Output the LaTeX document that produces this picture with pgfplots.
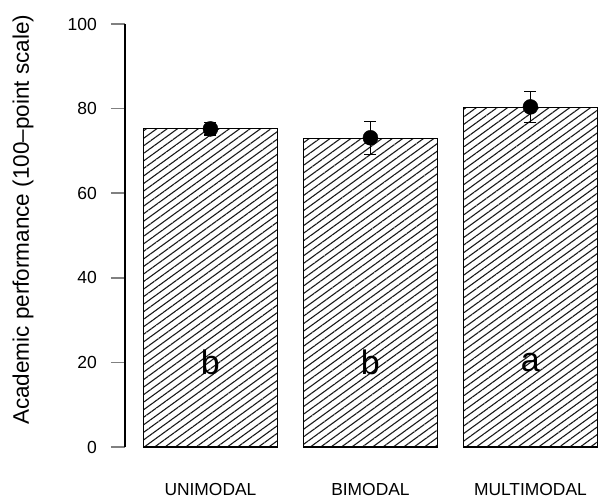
\documentclass[border=0pt]{standalone}
\usepackage{pgfplots}
\pgfplotsset{compat=1.18}
\usetikzlibrary{patterns.meta}
\usepackage{fontspec}
\setmainfont{Liberation Sans}
\begin{document}
\begin{tikzpicture}
\useasboundingbox (0,0) rectangle (598pt,499pt);
\begin{axis}[
  at={(125pt,52pt)}, anchor=south west,
  x=160pt, y=4.23pt,
  xmin=-0.534, xmax=2.422,
  ymin=0, ymax=100,
  clip=false,
  axis lines*=left,
  x axis line style={draw=none},
  y axis line style={line width=1.4pt},
  xtick={0,1,2},
  xticklabels={UNIMODAL,BIMODAL,MULTIMODAL},
  xtick style={draw=none},
  xticklabel style={font=\fontsize{17.4}{20}\selectfont, anchor=center, yshift=-29pt},
  ytick={0,20,40,60,80,100},
  yticklabels={0,20,40,60,80,100},
  tick align=outside,
  major tick length=14pt,
  ytick style={line width=1.4pt},
  yticklabel style={font=\fontsize{17.5}{20}\selectfont, anchor=east, inner sep=0pt, xshift=-14pt},
  ylabel={Academic performance (100--point scale)},
  ylabel style={font=\fontsize{22.5}{26}\selectfont, at={(axis description cs:-0.2156,0.537)}, anchor=center},
]
\addplot[ybar, bar width=134pt, draw=black, line width=1.2pt,
  pattern={Lines[angle=36, distance=6.1pt, line width=1.1pt]}, pattern color=black!90]
  coordinates {(0,75.3) (1,73.0) (2,80.3)};
\addplot[only marks, mark=*, mark size=7.5pt, black,
  error bars/.cd, y dir=both, y explicit,
  error bar style={line width=1.5pt, black},
  error mark options={rotate=90, mark size=6pt, line width=1.5pt, black}]
  coordinates {(0,75.2) +- (0,1.5) (1,73.1) +- (0,3.9) (2,80.4) +- (0,3.7)};
\node[font=\fontsize{34}{38}\selectfont] at (axis cs:0,20) {b};
\node[font=\fontsize{34}{38}\selectfont] at (axis cs:1,20) {b};
\node[font=\fontsize{34}{38}\selectfont] at (axis cs:2,20) {a};
\end{axis}
\end{tikzpicture}
\end{document}
